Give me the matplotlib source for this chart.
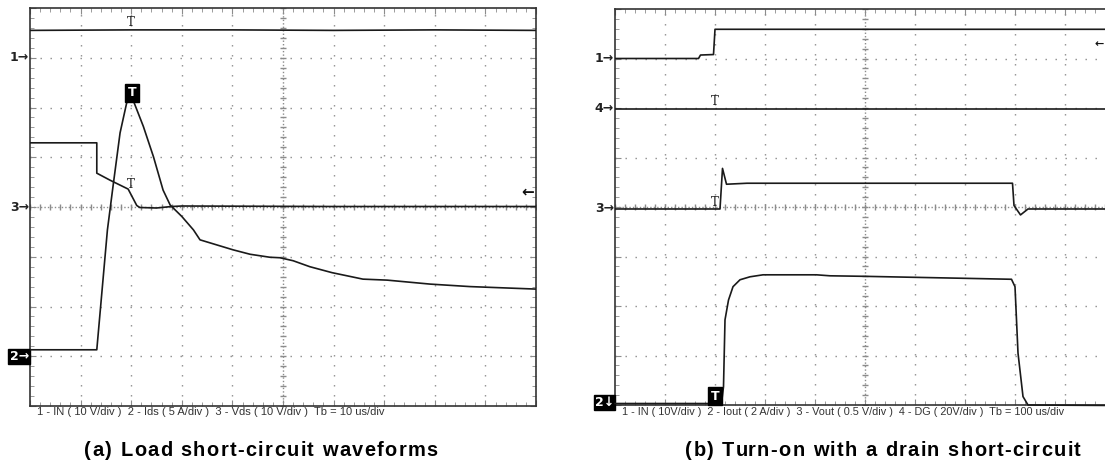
import numpy as np
import matplotlib.pyplot as plt
from matplotlib.ticker import MultipleLocator

plt.rcParams['font.family'] = ['Liberation Sans', 'DejaVu Sans']

# ---------------------------- data (divisions) ---------------------------- #
# (a) load short-circuit, Tb = 10 us/div
a_ch1_t = [0, 2, 4, 6, 8, 10]
a_ch1_v = [7.55, 7.56, 7.56, 7.55, 7.56, 7.55]

a_ch2_t = [0, 1.32, 1.53, 1.64, 1.78, 1.91, 2.01, 2.24, 2.44, 2.63, 2.77, 3.0,
           3.23, 3.36, 4.01, 4.35, 4.74, 4.94, 5.2, 5.53, 5.97, 6.58, 7.06,
           7.91, 8.70, 10.0]
a_ch2_v = [1.13, 1.13, 3.54, 4.41, 5.49, 6.09, 6.22, 5.62, 5.01, 4.34, 4.04, 3.81,
           3.54, 3.34, 3.14, 3.05, 2.99, 2.98, 2.92, 2.80, 2.68, 2.55, 2.53,
           2.45, 2.40, 2.35]

a_ch3_t = [0, 1.32, 1.32, 1.58, 1.94, 2.11, 2.17, 2.5, 2.8, 3.0, 6.0, 10]
a_ch3_v = [5.29, 5.29, 4.68, 4.54, 4.36, 4.03, 3.99, 3.98, 4.01, 4.02, 4.01, 4.01]

a_footer = "1 - IN ( 10 V/div )  2 - Ids ( 5 A/div )  3 - Vds ( 10 V/div )  Tb = 10 us/div"
a_caption = "(a) Load short-circuit waveforms"

# (b) turn-on with drain short-circuit, Tb = 100 us/div
b_ch1_t = [0, 1.67, 1.71, 1.97, 2.0, 10]
b_ch1_v = [7.0, 7.0, 7.07, 7.08, 7.59, 7.59]

b_ch4_t = [0, 10]
b_ch4_v = [5.98, 5.98]

b_ch3_t = [0, 2.1, 2.15, 2.23, 2.64, 7.95, 7.98, 8.11, 8.26, 10]
b_ch3_v = [3.96, 3.96, 4.78, 4.46, 4.48, 4.48, 4.03, 3.84, 3.96, 3.96]

b_ch2_t = [0, 2.13, 2.17, 2.20, 2.27, 2.36, 2.50, 2.70, 2.96, 4.03, 4.30, 4.96,
           6.96, 7.93, 8.0, 8.06, 8.16, 8.26, 10]
b_ch2_v = [0.03, 0.03, 0.37, 1.72, 2.12, 2.39, 2.53, 2.59, 2.63, 2.63, 2.61, 2.60,
           2.56, 2.54, 2.39, 1.05, 0.17, 0.0, -0.01]

b_footer = ("1 - IN ( 10V/div )  2 - Iout ( 2 A/div )  3 - Vout ( 0.5 V/div )  "
            "4 - DG ( 20V/div )  Tb = 100 us/div")
b_caption = "(b) Turn-on with a drain short-circuit"

TRACE = '#1a1a1a'
GRID = '#8c8c8c'
W, H = 1105, 463


# ---------------------------- graticule ---------------------------- #
def graticule(ax):
    ax.set_xlim(0, 10)
    ax.set_ylim(0, 8)
    for x in range(1, 10):
        if x != 5:
            ax.axvline(x, color=GRID, lw=1, ls=(0, (1, 6.2)), zorder=1)
    for y in range(1, 8):
        if y != 4:
            ax.axhline(y, color=GRID, lw=1, ls=(0, (1, 6.2)), zorder=1)
    # centre lines with fine ticks
    ax.axvline(5, color=GRID, lw=1, ls=(0, (1, 1.5)), zorder=1)
    ax.axhline(4, color=GRID, lw=1, ls=(0, (1, 1.5)), zorder=1)
    xs = np.arange(0, 10.01, 0.2)
    ys = np.arange(0, 8.01, 0.2)
    ax.plot(xs, np.full(len(xs), 4.0), ls='none', marker='|', ms=5, mew=1,
            color=GRID, zorder=1)
    ax.plot(np.full(len(ys), 5.0), ys, ls='none', marker='_', ms=5, mew=1,
            color=GRID, zorder=1)
    ax.xaxis.set_major_locator(MultipleLocator(1))
    ax.yaxis.set_major_locator(MultipleLocator(1))
    ax.xaxis.set_minor_locator(MultipleLocator(0.2))
    ax.yaxis.set_minor_locator(MultipleLocator(0.2))
    ax.tick_params(which='both', direction='in', top=True, right=True,
                   labelbottom=False, labelleft=False, color=GRID)
    ax.tick_params(which='major', length=4)
    ax.tick_params(which='minor', length=3)
    for s in ax.spines.values():
        s.set_color('#333333')
        s.set_linewidth(1.2)


def ch_label(ax, y, txt, boxed=False):
    kw = dict(transform=ax.transData, ha='right', va='center', fontsize=9,
              fontweight='bold', clip_on=False, family=['DejaVu Sans'])
    if boxed:
        ax.text(-0.02, y, txt, color='white',
                bbox=dict(boxstyle='square,pad=0.1', fc='black', ec='black'), **kw)
    else:
        ax.text(-0.02, y, txt, color='#222222', **kw)


def trig_mark(ax, x, y, filled=False):
    if filled:
        ax.text(x, y, 'T', ha='center', va='center', fontsize=9, fontweight='bold',
                color='white', family=['DejaVu Sans'], zorder=6,
                bbox=dict(boxstyle='square,pad=0.2', fc='black', ec='black'))
    else:
        ax.text(x, y, 'T', ha='center', va='bottom', fontsize=8.5,
                color='#222222', family=['DejaVu Serif'], zorder=6)


def spaced_caption(fig, xc_px, base_px, s, size, track):
    """bold caption with extra letter spacing, centred on xc_px"""
    r = fig.canvas.get_renderer()

    def width(t):
        tt = fig.text(0, 0, t, fontsize=size, fontweight='bold')
        w = tt.get_window_extent(r).width
        tt.remove()
        return w

    bar = width('|')
    offs = [width(s[:i] + '|') - bar for i in range(len(s))]
    total = width(s) + track * (len(s) - 1)
    x0 = xc_px - total / 2
    for i, ch in enumerate(s):
        if ch == ' ':
            continue
        fig.text((x0 + offs[i] + i * track) / W, 1 - base_px / H, ch,
                 ha='left', va='baseline', fontsize=size, fontweight='bold',
                 color='black')


fig = plt.figure(figsize=(W / 100, H / 100), dpi=100)

# ---------------------------- (a) ---------------------------- #
ax = fig.add_axes([30 / W, 57 / H, 506 / W, 398 / H])
graticule(ax)
ax.plot(a_ch1_t, a_ch1_v, color=TRACE, lw=1.2, zorder=3)
ax.plot(a_ch3_t, a_ch3_v, color=TRACE, lw=1.2, zorder=3)
ax.plot(a_ch2_t, a_ch2_v, color=TRACE, lw=1.2, zorder=4)
trig_mark(ax, 2.0, 7.58)
trig_mark(ax, 2.0, 4.33)
trig_mark(ax, 2.01, 6.3, filled=True)
ch_label(ax, 7.0, '1→')
ch_label(ax, 4.0, '3→')
ch_label(ax, 1.0, '2→', boxed=True)
ax.text(9.84, 4.3, '←', ha='center', va='center', fontsize=11, fontweight='bold',
        color='#111111', family=['DejaVu Sans'])
ax.text(0.14, -0.02, a_footer, transform=ax.transData, ha='left', va='top',
        fontsize=8, color='#333333', clip_on=False)

# ---------------------------- (b) ---------------------------- #
bx = fig.add_axes([615 / W, 58 / H, 500 / W, 396 / H])
graticule(bx)
bx.plot(b_ch1_t, b_ch1_v, color=TRACE, lw=1.2, zorder=3)
bx.plot(b_ch4_t, b_ch4_v, color=TRACE, lw=1.2, zorder=3)
bx.plot(b_ch3_t, b_ch3_v, color=TRACE, lw=1.2, zorder=3)
bx.plot(b_ch2_t, b_ch2_v, color=TRACE, lw=1.2, zorder=4, clip_on=False)
trig_mark(bx, 2.0, 6.0)
trig_mark(bx, 2.0, 3.96)
trig_mark(bx, 2.0, 0.18, filled=True)
ch_label(bx, 7.0, '1→')
ch_label(bx, 6.0, '4→')
ch_label(bx, 3.96, '3→')
ch_label(bx, 0.05, '2↓', boxed=True)
bx.text(9.68, 7.3, '←', ha='center', va='center', fontsize=8, fontweight='bold',
        color='#111111', family=['DejaVu Sans'])
bx.text(0.14, -0.05, b_footer, transform=bx.transData, ha='left', va='top',
        fontsize=7.8, color='#333333', clip_on=False)

# ---------------------------- captions ---------------------------- #
spaced_caption(fig, 261, 456, a_caption, 14.4, 1.4)
spaced_caption(fig, 883, 456, b_caption, 14.4, 1.4)

plt.savefig('out.png', dpi=100)
plt.close()
